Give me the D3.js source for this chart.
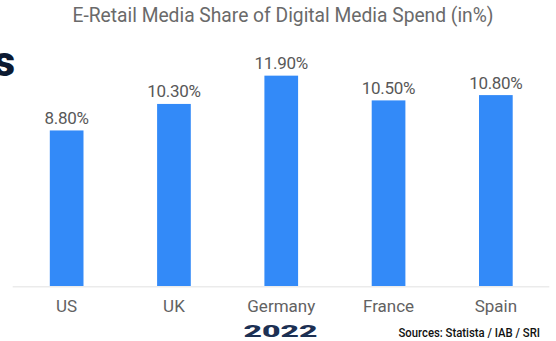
<!DOCTYPE html>
<html>
<head>
<meta charset="utf-8">
<script src="https://cdn.jsdelivr.net/npm/d3@7"></script>
<style>
  html, body { margin: 0; padding: 0; background: #fff; }
  svg { display: block; }
  text { font-family: Roboto, "Noto Sans", sans-serif; }
</style>
</head>
<body>
<script>
// Retail media share of digital media spend, 2022
const countries = ["US", "UK", "Germany", "France", "Spain"];
const shares = [8.8, 10.3, 11.9, 10.5, 10.8];
const titleText = "E-Retail Media Share of Digital Media Spend (in%)";
const yearText = "2022";
const sourceText = "Sources: Statista / IAB / SRI";

const W = 556, H = 341;
const svg = d3.select("body").append("svg").attr("width", W).attr("height", H);

const x = d3.scaleBand()
  .domain(countries)
  .range([13, 549.5])
  .paddingInner(0.686)
  .paddingOuter(0.343);

const y = d3.scaleLinear().domain([0, 16.18]).range([286, 0]);

// heading fragment at the left edge
svg.append("text")
  .attr("x", 15).attr("y", 76)
  .attr("text-anchor", "end")
  .attr("font-size", 42).attr("font-weight", 900)
  .attr("fill", "#0c1a31")
  .text("s");

// title
svg.append("text")
  .attr("x", 283).attr("y", 21.7)
  .attr("text-anchor", "middle")
  .attr("font-size", 19.5)
  .attr("fill", "#6a6a6a")
  .attr("textLength", 421).attr("lengthAdjust", "spacingAndGlyphs")
  .text(titleText);

// baseline
svg.append("line")
  .attr("x1", 12.7).attr("x2", 549.3)
  .attr("y1", 286.8).attr("y2", 286.8)
  .attr("stroke", "#ebebeb").attr("stroke-width", 1.6);

const data = countries.map((c, i) => ({ c, v: shares[i] }));

svg.selectAll("rect.bar").data(data).join("rect")
  .attr("class", "bar")
  .attr("x", d => x(d.c))
  .attr("width", x.bandwidth())
  .attr("y", d => y(d.v))
  .attr("height", d => y(0) - y(d.v))
  .attr("fill", "#338af8");

// value labels above each bar
svg.selectAll("text.val").data(data).join("text")
  .attr("class", "val")
  .attr("x", d => x(d.c) + x.bandwidth() / 2)
  .attr("y", d => y(d.v) - 6.5)
  .attr("text-anchor", "middle")
  .attr("font-size", 17)
  .attr("letter-spacing", -0.3)
  .attr("fill", "#585858")
  .text(d => d.v.toFixed(2) + "%");

// category axis labels
const xAxis = d3.axisBottom(x).tickSize(0).tickPadding(0);
const gx = svg.append("g").attr("transform", "translate(0,286)").call(xAxis);
gx.select(".domain").remove();
gx.selectAll("text")
  .attr("dy", null)
  .attr("y", 26)
  .attr("font-size", 17)
  .attr("font-family", "Roboto, sans-serif")
  .attr("fill", "#626262");

// year
svg.append("text")
  .attr("x", 243.5).attr("y", 336.7)
  .attr("font-size", 16).attr("font-weight", 900)
  .attr("fill", "#1c3053")
  .attr("textLength", 74).attr("lengthAdjust", "spacingAndGlyphs")
  .text(yearText);

// source note
svg.append("text")
  .attr("x", 398.5).attr("y", 337)
  .attr("font-size", 13.5).attr("font-weight", 500)
  .attr("fill", "#111")
  .attr("textLength", 141.5).attr("lengthAdjust", "spacingAndGlyphs")
  .text(sourceText);
</script>
</body>
</html>
